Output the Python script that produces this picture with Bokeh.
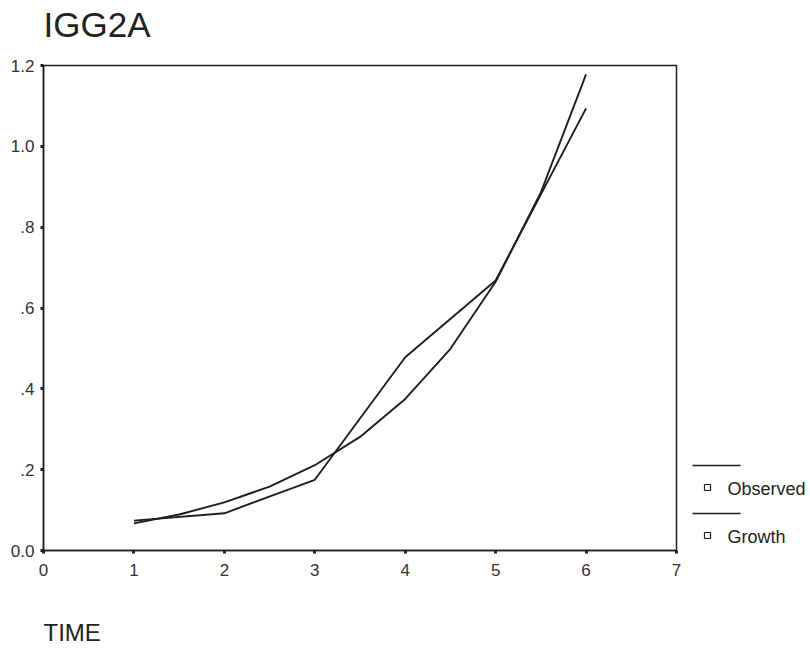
from bokeh.plotting import figure
from bokeh.models import Range1d, FixedTicker
from bokeh.core.properties import value
from bokeh.layouts import row, column
from bokeh.embed import file_html
from bokeh.resources import INLINE

# ---- data ----
time_obs = [1, 2, 3, 4, 5, 6]
observed = [0.074, 0.092, 0.175, 0.478, 0.668, 1.094]
time_fit = [1, 1.5, 2, 2.5, 3, 3.5, 4, 4.5, 5, 5.5, 6]
growth = [0.067, 0.089, 0.119, 0.158, 0.211, 0.281, 0.375, 0.499, 0.665, 0.886, 1.178]
x_ticks = [0, 1, 2, 3, 4, 5, 6, 7]
y_ticks = [0.0, 0.2, 0.4, 0.6, 0.8, 1.0, 1.2]
y_tick_labels = ["0.0", ".2", ".4", ".6", ".8", "1.0", "1.2"]
legend_labels = ["Observed", "Growth"]
chart_title = "IGG2A"
x_title = "TIME"

FONT = "Liberation Sans"
INK = "#1e1e1e"
TXT = "#222222"


def blank(fig):
    fig.outline_line_color = None
    fig.background_fill_color = "white"
    fig.border_fill_color = "white"
    fig.grid.visible = False
    return fig


# ---- title strip (page rows 0..55) ----
top = blank(figure(width=810, height=55, x_range=Range1d(0, 770), y_range=Range1d(55, 0),
                   output_backend="svg", toolbar_location=None, min_border=0,
                   min_border_left=40, x_axis_location=None, y_axis_location=None))
top.text([0], [24], text=[chart_title], text_font=value(FONT), text_font_size="35px",
         text_baseline="alphabetic", text_align="left", text_color=TXT)

# ---- main plot (page rows 55..600, frame 65..550) ----
p = figure(width=685, height=545, x_range=Range1d(0, 7), y_range=Range1d(0, 1.2),
           output_backend="svg", toolbar_location=None,
           min_border_left=43, min_border_right=9, min_border_top=10, min_border_bottom=50)
p.background_fill_color = "white"
p.border_fill_color = "white"
p.outline_line_color = INK
p.outline_line_width = 1.5
p.grid.visible = False

for ax in (p.xaxis[0], p.yaxis[0]):
    ax.axis_line_color = INK
    ax.axis_line_width = 1.5
    ax.major_tick_line_color = INK
    ax.major_tick_line_width = 3
    ax.major_tick_out = 3
    ax.major_tick_in = 0
    ax.minor_tick_line_color = None
    ax.major_label_text_font = FONT
    ax.major_label_text_font_size = "17px"
    ax.major_label_text_color = "#333333"

p.xaxis[0].ticker = FixedTicker(ticks=x_ticks)
p.xaxis[0].major_label_standoff = 10
p.yaxis[0].ticker = FixedTicker(ticks=y_ticks)
p.yaxis[0].major_label_overrides = {t: s for t, s in zip(y_ticks, y_tick_labels)}
p.yaxis[0].major_label_standoff = 6

p.line(time_obs, observed, line_color=INK, line_width=1.9)
p.line(time_fit, growth, line_color=INK, line_width=1.9)

# ---- legend panel (its frame is aligned with the main frame: page rows 65..550) ----
lg = blank(figure(width=125, height=545, x_range=Range1d(0, 125), y_range=Range1d(550, 65),
                  output_backend="svg", toolbar_location=None, min_border=0,
                  x_axis_location=None, y_axis_location=None))

line_rows = [465, 513]
for lab, yl in zip(legend_labels, line_rows):
    lg.segment(x0=[7], y0=[yl], x1=[55], y1=[yl], line_color=INK, line_width=1.5)
    lg.scatter([22], [yl + 22], marker="square", size=6, fill_color="white",
               line_color=INK, line_width=1.2)
    lg.text([42], [yl + 23], text=[lab], text_font_size="18px",
            text_baseline="middle", text_align="left", text_color=TXT,
            text_font=value(FONT))

# ---- x title strip (page rows 600..648) ----
bot = blank(figure(width=810, height=48, x_range=Range1d(0, 767), y_range=Range1d(48, 0),
                   output_backend="svg", toolbar_location=None, min_border=0,
                   min_border_left=43, x_axis_location=None, y_axis_location=None))
bot.text([0], [32], text=[x_title], text_font=value(FONT), text_font_size="24px",
         text_baseline="alphabetic", text_align="left", text_color=TXT)

layout = column(top, row(p, lg), bot)
open("out.html", "w").write(file_html(layout, INLINE))
